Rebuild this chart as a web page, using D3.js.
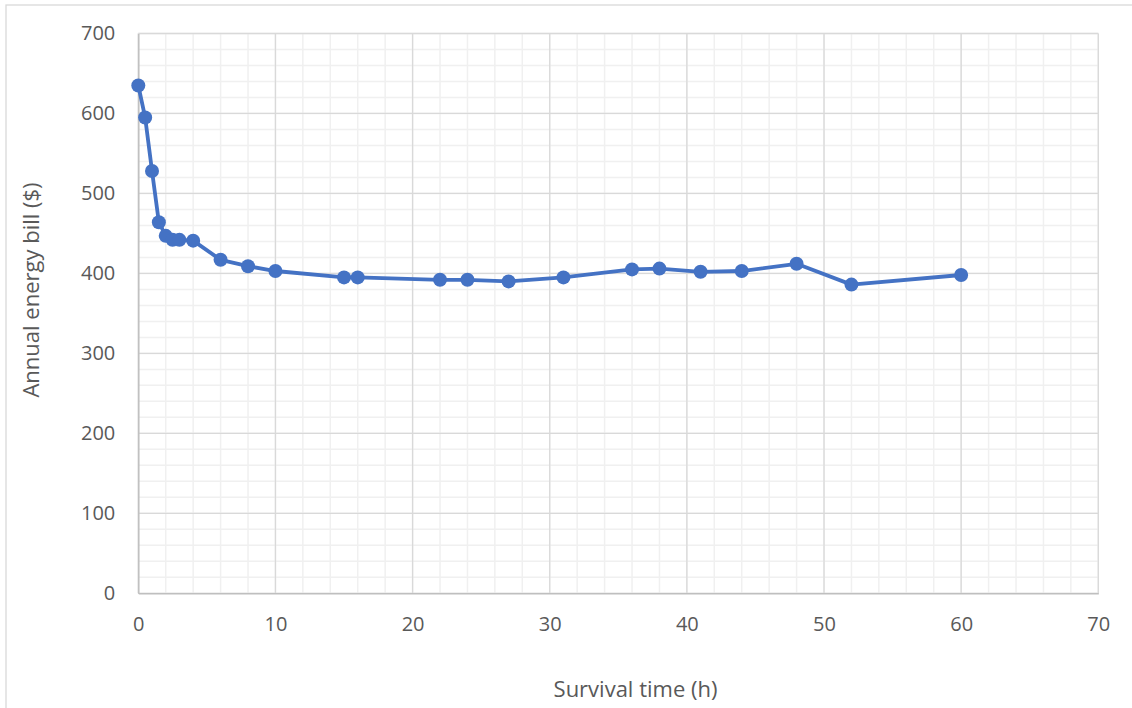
<!DOCTYPE html>
<html>
<head>
<meta charset="utf-8">
<script src="https://cdn.jsdelivr.net/npm/d3@7"></script>
<style>
  body { margin: 0; background: #fff; }
  text { font-family: "Open Sans", sans-serif; fill: #595959; }
</style>
</head>
<body>
<script>
// survival time (h) and annual energy bill ($)
var hours = [0, 0.5, 1, 1.5, 2, 2.5, 3, 4, 6, 8, 10, 15, 16, 22, 24, 27, 31, 36, 38, 41, 44, 48, 52, 60];
var bill  = [635, 595, 528, 464, 447, 442, 442, 441, 417, 409, 403, 395, 395, 392, 392, 390, 395, 405, 406, 402, 403, 412, 386, 398];
var xTicks = [0, 10, 20, 30, 40, 50, 60, 70];
var yTicks = [0, 100, 200, 300, 400, 500, 600, 700];

var w = 1132, h = 708;
var plotL = 138.3, plotR = 1098.3, plotT = 33.5, plotB = 593.3;

var svg = d3.select("body").append("svg")
    .attr("width", w)
    .attr("height", h);

// chart frame
svg.append("rect")
    .attr("x", 6).attr("y", 5)
    .attr("width", 1135).attr("height", 720)
    .attr("fill", "none")
    .attr("stroke", "#d9d9d9")
    .attr("stroke-width", 1.3);

var x = d3.scaleLinear().domain([0, 70]).range([plotL, plotR]);
var y = d3.scaleLinear().domain([0, 700]).range([plotB, plotT]);

// minor grid
svg.selectAll("line.minx")
   .data(d3.range(0, 71, 2))
   .enter().append("line")
   .attr("x1", d => x(d)).attr("x2", d => x(d))
   .attr("y1", plotT).attr("y2", plotB)
   .attr("stroke", "#f0f0f0").attr("stroke-width", 1.5);
svg.selectAll("line.miny")
   .data(d3.range(0, 701, 20))
   .enter().append("line")
   .attr("y1", d => y(d)).attr("y2", d => y(d))
   .attr("x1", plotL).attr("x2", plotR)
   .attr("stroke", "#f0f0f0").attr("stroke-width", 1.5);

// major grid
svg.selectAll("line.majx")
   .data(xTicks)
   .enter().append("line")
   .attr("x1", d => x(d)).attr("x2", d => x(d))
   .attr("y1", plotT).attr("y2", plotB)
   .attr("stroke", "#d9d9d9").attr("stroke-width", 1.3);
svg.selectAll("line.majy")
   .data(yTicks)
   .enter().append("line")
   .attr("y1", d => y(d)).attr("y2", d => y(d))
   .attr("x1", plotL).attr("x2", plotR)
   .attr("stroke", "#d9d9d9").attr("stroke-width", 1.3);

// axes
var xAxis = svg.append("g")
    .attr("transform", "translate(0," + plotB + ")")
    .call(d3.axisBottom(x).tickValues(xTicks).tickSize(0).tickPadding(24));
var yAxis = svg.append("g")
    .attr("transform", "translate(" + plotL + ",0)")
    .call(d3.axisLeft(y).tickValues(yTicks).tickSize(0).tickPadding(23));
[xAxis, yAxis].forEach(function(g) {
  g.select(".domain").attr("stroke", "#bfbfbf").attr("stroke-width", 1.5);
  g.selectAll("text")
   .attr("font-family", "Open Sans")
   .attr("font-size", 20)
   .attr("fill", "#595959");
});

// series
var pts = hours.map((d, i) => [d, bill[i]]);
svg.append("path")
    .datum(pts)
    .attr("fill", "none")
    .attr("stroke", "#4472c4")
    .attr("stroke-width", 3.8)
    .attr("stroke-linejoin", "round")
    .attr("d", d3.line().x(d => x(d[0])).y(d => y(d[1])));

svg.selectAll("circle")
   .data(pts)
   .enter().append("circle")
   .attr("cx", d => x(d[0]))
   .attr("cy", d => y(d[1]))
   .attr("r", 7)
   .attr("fill", "#4472c4");

// axis titles
svg.append("text")
    .attr("x", 635.5).attr("y", 697)
    .attr("text-anchor", "middle")
    .attr("font-size", 22)
    .text("Survival time (h)");
svg.append("text")
    .attr("transform", "translate(39,290) rotate(-90)")
    .attr("text-anchor", "middle")
    .attr("font-size", 22)
    .text("Annual energy bill ($)");
</script>
</body>
</html>
